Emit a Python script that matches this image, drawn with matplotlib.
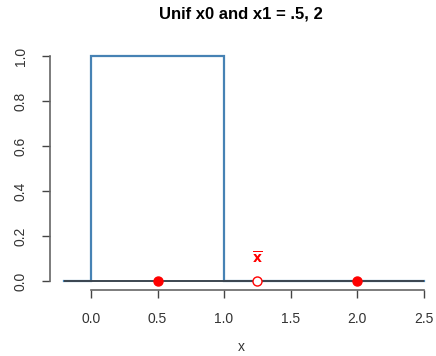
import matplotlib
matplotlib.use("Agg")
import matplotlib.pyplot as plt

plt.rcParams['font.family'] = ['Liberation Sans', 'DejaVu Sans']

# density of Unif(0, 1) drawn as a step line
step_x = [-0.2, 0.0, 0.0, 1.0, 1.0, 2.5]
step_y = [0.0, 0.0, 1.0, 1.0, 0.0, 0.0]
# the two observations and their mean
obs_x = [0.5, 2.0]
mean_x = 1.25
mean_label_y = 0.1

xticks = [0.0, 0.5, 1.0, 1.5, 2.0, 2.5]
yticks = [0.0, 0.2, 0.4, 0.6, 0.8, 1.0]

fig = plt.figure(figsize=(4.36, 3.56), dpi=100)
ax = fig.add_axes([50 / 436, 1 - 290 / 356, 388 / 436, 243 / 356])

ax.plot(step_x, step_y, color='#4682b4', lw=1.6, solid_joinstyle='miter')
ax.hlines(0, step_x[0], step_x[-1], color='#3c4650', lw=1.4)
ax.plot(obs_x, [0, 0], 'o', color='red', ms=6.5, zorder=5)
ax.plot([mean_x], [0], 'o', mfc='white', mec='red', mew=1.0, ms=6.5, zorder=5)
ax.text(mean_x, mean_label_y, r'$\overline{\mathbf{x}}$', color='red',
        ha='center', va='center', fontsize=10)

ax.set_xlim(-0.308, 2.608)
ax.set_ylim(-0.04, 1.04)
for s in ['top', 'right']:
    ax.spines[s].set_visible(False)
ax.spines['bottom'].set_bounds(0, 2.5)
ax.spines['left'].set_bounds(0, 1)
for s in ['bottom', 'left']:
    ax.spines[s].set_color('#666666')
    ax.spines[s].set_linewidth(1.2)

ax.set_xticks(xticks)
ax.set_xticklabels(['%.1f' % v for v in xticks])
ax.set_yticks(yticks)
ax.set_yticklabels(['%.1f' % v for v in yticks], rotation=90, va='center')
ax.tick_params(axis='both', length=6, width=1.0, color='#444444',
               labelsize=10, labelcolor='#333333', pad=10)

fig.text(241 / 436, 1 - 347 / 356, 'x', ha='center', va='center',
         fontsize=10, color='#333333')
fig.text(241 / 436, 1 - 14 / 356, 'Unif x0 and x1 = .5, 2', ha='center',
         va='center', fontsize=12, fontweight='bold')

fig.savefig('out.png', dpi=100)
